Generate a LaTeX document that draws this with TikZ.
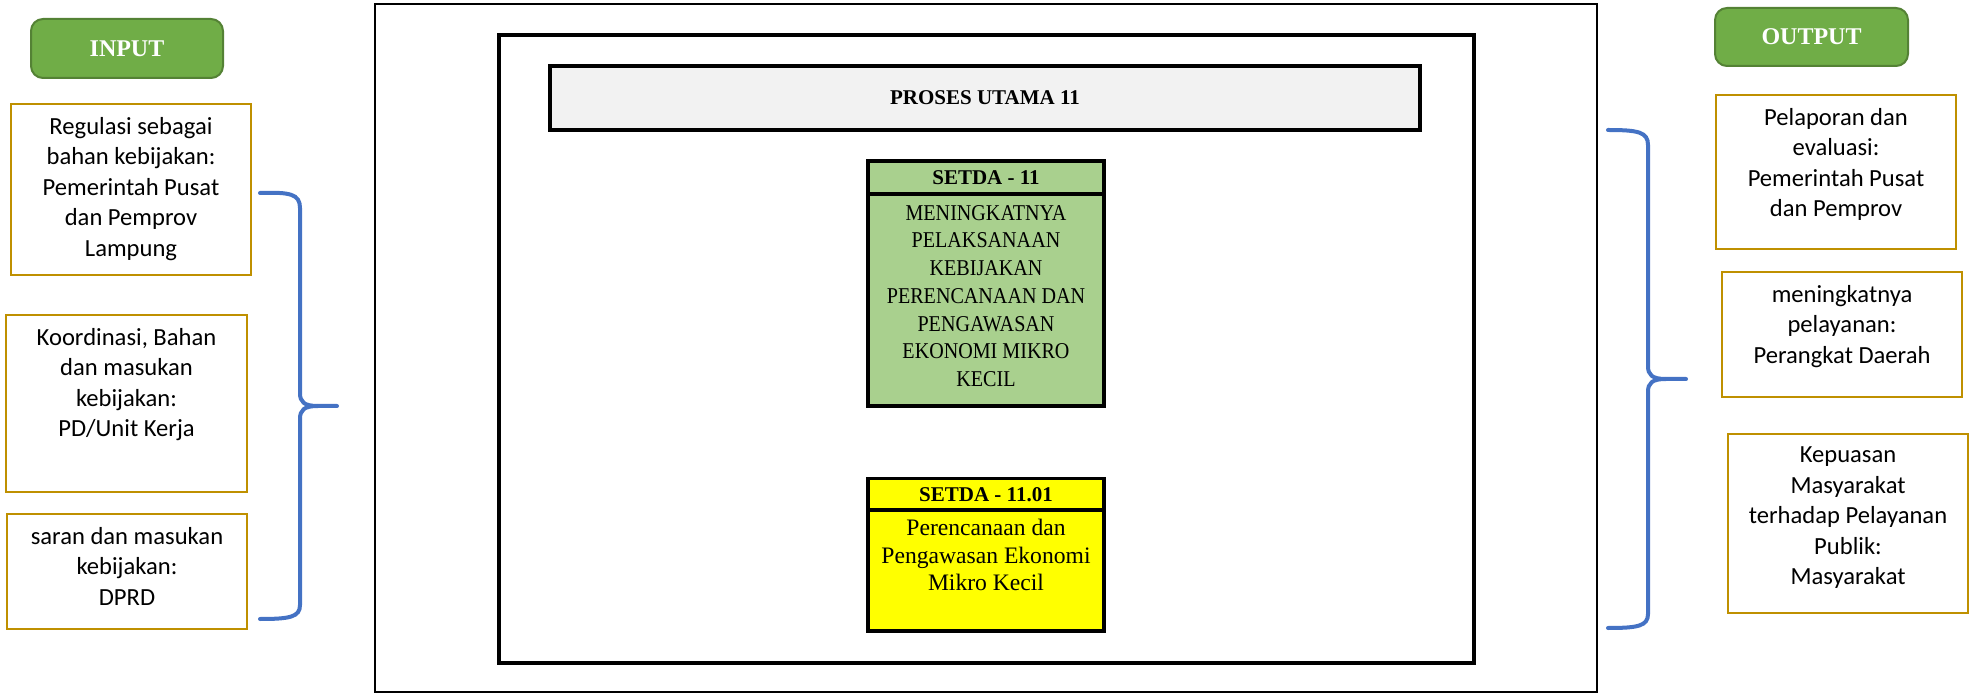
\documentclass[tikz,border=0pt]{standalone}
\usepackage{fontspec}
\setmainfont{Liberation Serif}
\newfontfamily\calfont{Carlito}
\newfontfamily\narrowserif[FakeStretch=0.89]{Liberation Serif}
\definecolor{goldc}{RGB}{191,144,0}
\definecolor{btnfill}{RGB}{112,173,71}
\definecolor{btnline}{RGB}{84,130,53}
\definecolor{lgreen}{RGB}{169,208,142}
\definecolor{bracec}{RGB}{68,114,196}
\definecolor{greyfill}{RGB}{242,242,242}
\definecolor{pureyellow}{RGB}{255,255,0}
\begin{document}
\begin{tikzpicture}[x=0.5pt,y=-0.5pt,
  btn/.style={draw=btnline, fill=btnfill, line width=1pt, rounded corners=6pt, text=white, font=\bfseries\fontsize{12}{14}\selectfont, inner sep=0},
  goldbox/.style={draw=goldc, line width=1.2pt, inner sep=0},
  sidetxt/.style={font=\calfont\fontsize{12.3}{15.25}\selectfont, align=center, inner sep=0, anchor=north},
  blk/.style={draw=black, line width=1.6pt, inner sep=0},
  hdtxt/.style={font=\bfseries\fontsize{10.5}{13}\selectfont, inner sep=0},
  bodytxt/.style={font=\narrowserif\fontsize{11.3}{13.85}\selectfont, align=center, inner sep=0},
  brace/.style={draw=bracec, line width=2pt, line cap=round}]
\useasboundingbox (0,0) rectangle (1974,694);

% outer frames
\node[draw=black, line width=1.1pt, minimum width=611pt, minimum height=344pt, inner sep=0] (outer) at (986,348) {};
\node[draw=black, line width=2pt, minimum width=487.5pt, minimum height=314pt, inner sep=0] (inner) at (986.5,349) {};
\node[blk, fill=greyfill, minimum width=435pt, minimum height=32pt, font=\bfseries\fontsize{10.5}{13}\selectfont] (proses) at (985,98) {PROSES UTAMA 11};

% green box
\node[blk, fill=lgreen, minimum width=118pt, minimum height=16.5pt] (gh) at (986,177.5) {};
\node[hdtxt] (ght) at (gh.center) {SETDA - 11};
\node[blk, fill=lgreen, minimum width=118pt, minimum height=106pt] (gb) at (986,300) {};
\node[bodytxt] (gbt) at (986,296) {MENINGKATNYA\\PELAKSANAAN\\KEBIJAKAN\\PERENCANAAN DAN\\PENGAWASAN\\EKONOMI MIKRO\\KECIL};

% yellow box
\node[blk, fill=pureyellow, minimum width=118pt, minimum height=16pt] (yh) at (986,494.5) {};
\node[hdtxt] (yht) at (yh.center) {SETDA - 11.01};
\node[blk, fill=pureyellow, minimum width=118pt, minimum height=60.5pt] (yb) at (986,570.5) {};
\node[bodytxt, font=\fontsize{11.8}{13.85}\selectfont] (ybt) at (986,555) {Perencanaan dan\\Pengawasan Ekonomi\\Mikro Kecil};

% input side
\node[btn, minimum width=96pt, minimum height=29.5pt] (inbtn) at (127,48.5) {INPUT};
\node[goldbox, minimum width=120pt, minimum height=85.5pt] (in1) at (131,189.5) {};
\node[sidetxt] (in1t) at ([yshift=-7pt]in1.north) {Regulasi sebagai\\bahan kebijakan:\\Pemerintah Pusat\\dan Pemprov\\Lampung};
\node[goldbox, minimum width=120.5pt, minimum height=88.5pt] (in2) at (126.5,403.5) {};
\node[sidetxt] (in2t) at ([yshift=-7pt]in2.north) {Koordinasi, Bahan\\dan masukan\\kebijakan:\\PD/Unit Kerja};
\node[goldbox, minimum width=120pt, minimum height=57.5pt] (in3) at (127,571.5) {};
\node[sidetxt] (in3t) at ([yshift=-7pt]in3.north) {saran dan masukan\\kebijakan:\\DPRD};

% output side
\node[btn, minimum width=96.5pt, minimum height=29pt] (outbtn) at (1811.5,37) {OUTPUT};
\node[goldbox, minimum width=120pt, minimum height=77pt] (out1) at (1836,172) {};
\node[sidetxt] (out1t) at ([yshift=-7pt]out1.north) {Pelaporan dan\\evaluasi:\\Pemerintah Pusat\\dan Pemprov};
\node[goldbox, minimum width=120pt, minimum height=62.5pt] (out2) at (1842,334.5) {};
\node[sidetxt] (out2t) at ([yshift=-7pt]out2.north) {meningkatnya\\pelayanan:\\Perangkat Daerah};
\node[goldbox, minimum width=120pt, minimum height=89.5pt] (out3) at (1848,523.5) {};
\node[sidetxt] (out3t) at ([yshift=-7pt]out3.north) {Kepuasan\\Masyarakat\\terhadap Pelayanan\\Publik:\\Masyarakat};

% braces
\coordinate (lbt) at (260,193);
\coordinate (lbtip) at (337,406);
\coordinate (lbb) at (260,619);
\draw[brace] (lbt) .. controls (290,192) and (300,194) .. (300,208) -- (300,393) .. controls (300,402) and (304,406) .. (318,406) -- (lbtip);
\draw[brace] (318,406) .. controls (304,406) and (300,410) .. (300,419) -- (300,605) .. controls (300,617) and (290,619) .. (lbb);

\coordinate (rbt) at (1608,130);
\coordinate (rbtip) at (1686,379);
\coordinate (rbb) at (1608,628);
\draw[brace] (rbt) .. controls (1638,130) and (1648,132) .. (1648,145) -- (1648,366) .. controls (1648,375) and (1652,379) .. (1666,379) -- (rbtip);
\draw[brace] (1666,379) .. controls (1652,379) and (1648,383) .. (1648,392) -- (1648,614) .. controls (1648,626) and (1638,628) .. (rbb);
\end{tikzpicture}
\end{document}
